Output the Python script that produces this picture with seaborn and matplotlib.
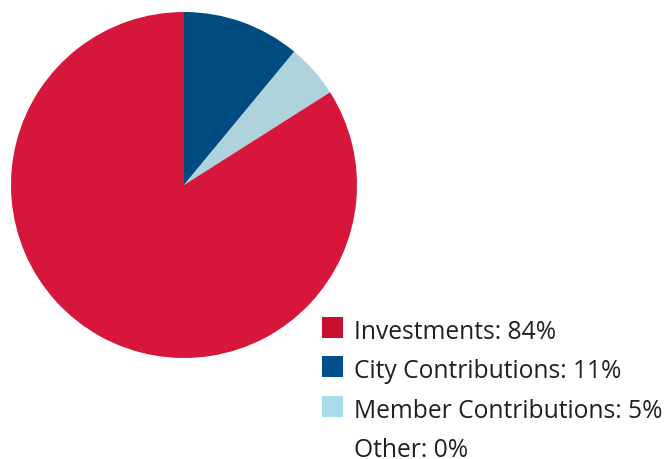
import matplotlib
matplotlib.use("Agg")
import matplotlib.pyplot as plt
from matplotlib.patches import Rectangle
import seaborn as sns

sns.set_theme(style="white")
plt.rcParams["font.family"] = ["Open Sans", "DejaVu Sans"]

# Revenue sources (percent of total)
categories = ["City Contributions", "Member Contributions", "Investments", "Other"]
shares = [11, 5, 84, 0]
pie_colors = ["#004B7F", "#AED3DC", "#D6163A", "#FFFFFF"]

legend_order = ["Investments", "City Contributions", "Member Contributions", "Other"]
legend_colors = {"Investments": "#C8102E", "City Contributions": "#00508A",
                 "Member Contributions": "#A7DDE8", "Other": None}

W, H = 665, 460
fig = plt.figure(figsize=(W / 100, H / 100), dpi=100)
fig.patch.set_facecolor("white")

# Pie: centre (184, 186) px, radius 173 px
cx, cy, r = 184, 186, 173
ax = fig.add_axes([(cx - r) / W, (H - cy - r) / H, 2 * r / W, 2 * r / H])
ax.pie(shares, colors=pie_colors, startangle=90, counterclock=False,
       wedgeprops=dict(linewidth=0), radius=1.0)
ax.set_xlim(-1, 1)
ax.set_ylim(-1, 1)
ax.set_aspect("equal")
ax.axis("off")

# Legend: square swatch sitting on each text baseline
share_of = dict(zip(categories, shares))
x_box, box = 322, 21
x_text = 354
base0, step = 339, 39.3
for i, name in enumerate(legend_order):
    yb = base0 + i * step
    col = legend_colors[name]
    if col is not None:
        fig.patches.append(Rectangle((x_box / W, (H - yb) / H), box / W, box / H,
                                     transform=fig.transFigure,
                                     facecolor=col, edgecolor="none"))
    fig.text(x_text / W, (H - yb) / H, f"{name}: {share_of[name]}%",
             ha="left", va="baseline", fontsize=17.7, color="#231F20")

fig.savefig("out.png", dpi=100, facecolor="white")
